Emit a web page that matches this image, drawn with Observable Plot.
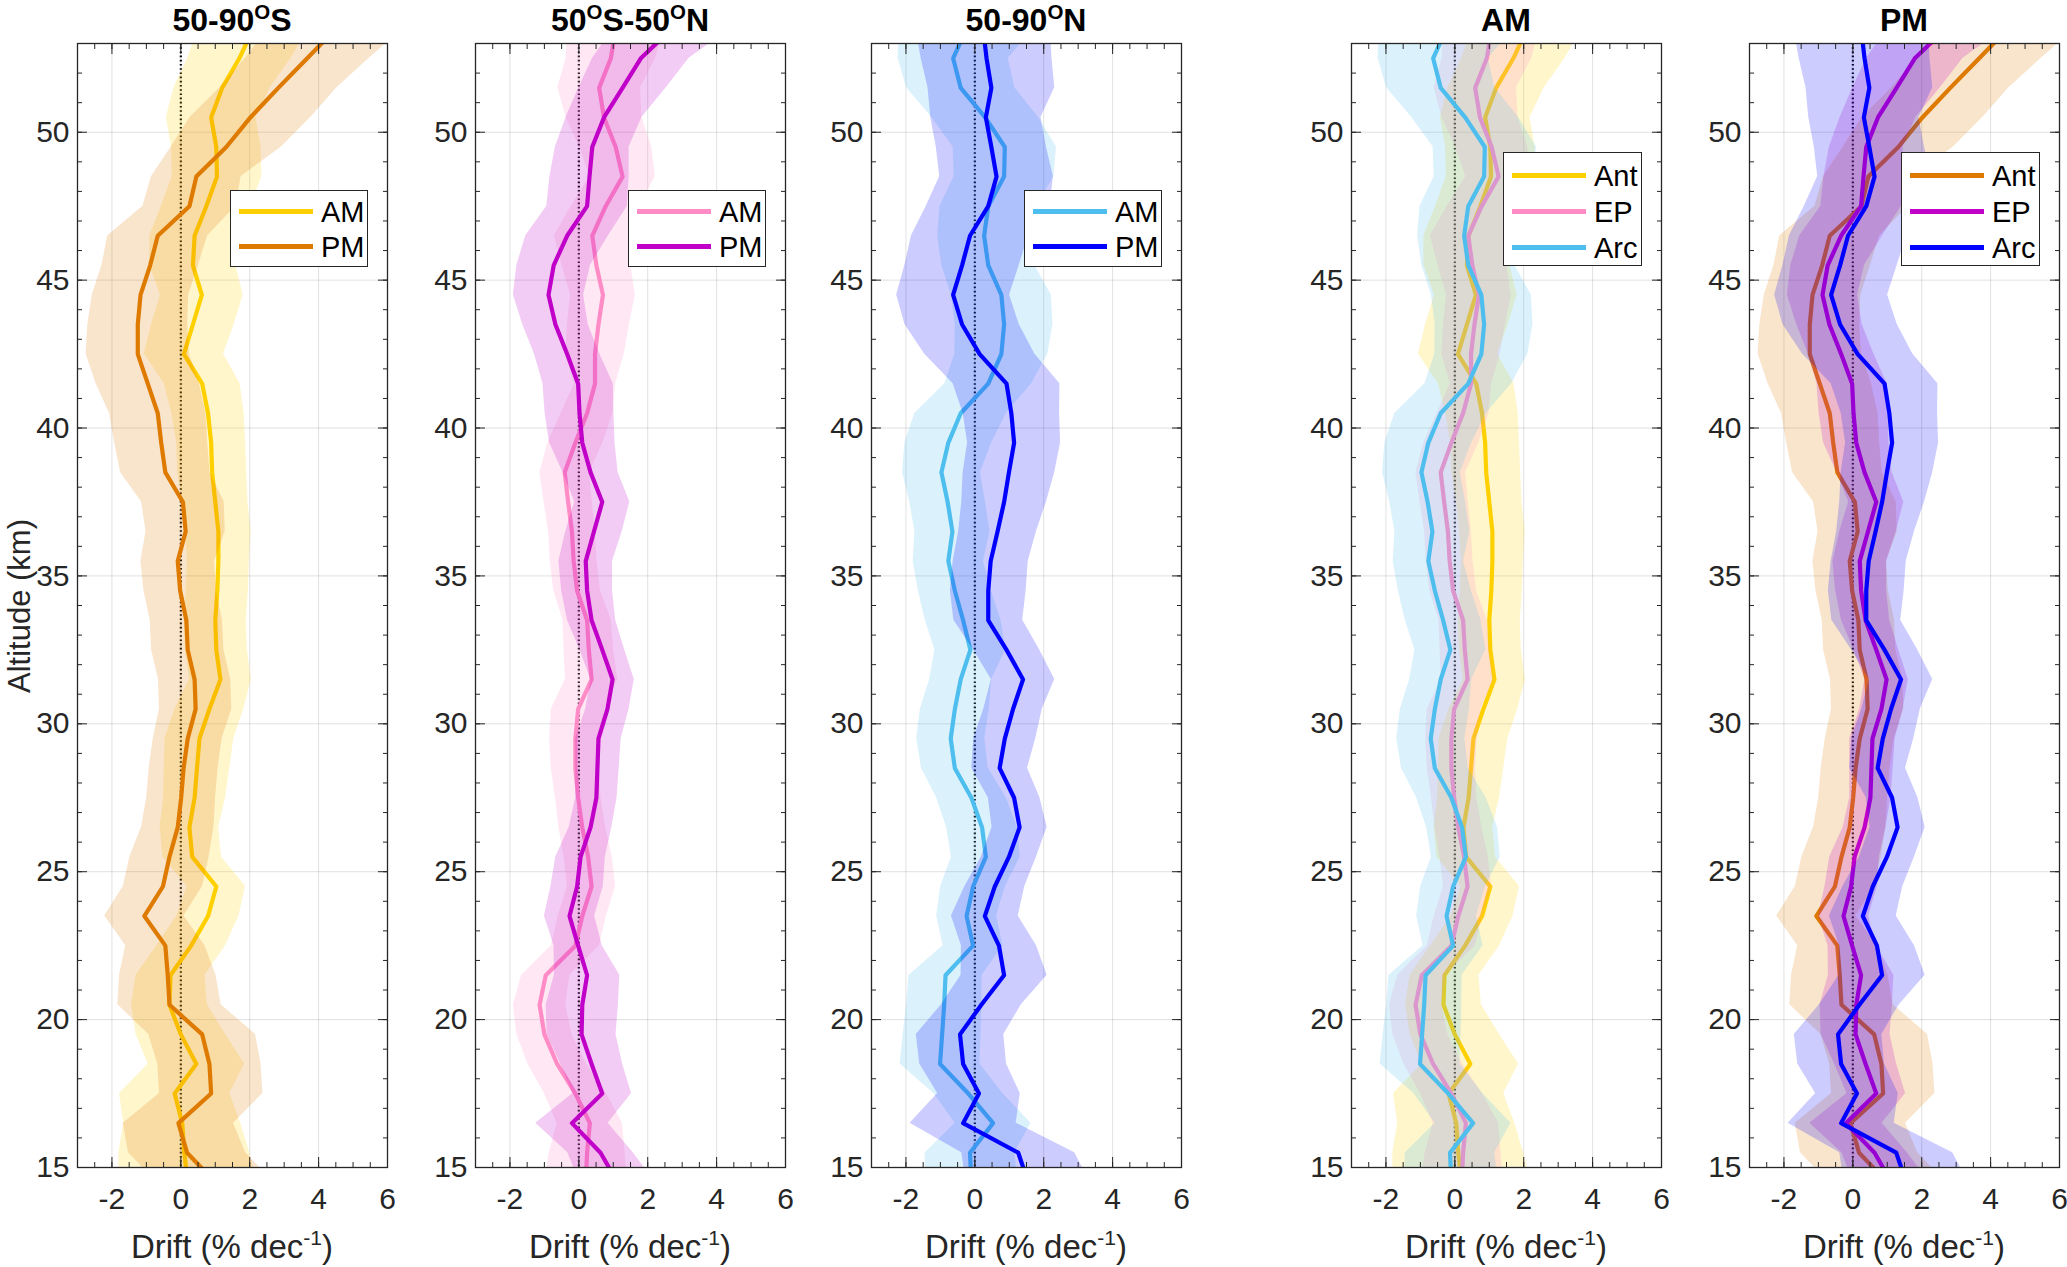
<!DOCTYPE html>
<html>
<head>
<meta charset="utf-8">
<script src="https://cdn.jsdelivr.net/npm/d3@7"></script>
<script src="https://cdn.jsdelivr.net/npm/@observablehq/plot@0.6"></script>
<style>
  body { margin: 0; background: #fff; font-family: "Liberation Sans", Arial, sans-serif; color: #262626; }
  #chart { position: relative; width: 2067px; height: 1267px; overflow: hidden; }
  .panel { position: absolute; }
  .panel svg { max-width: none !important; }
  .title { position: absolute; top: 1px; width: 310px; text-align: center; font-weight: bold; font-size: 32px; line-height: 38px; color: #000; }
  .xlab { position: absolute; top: 1226px; width: 310px; text-align: center; font-size: 33px; line-height: 42px; }
  sup { font-size: 0.64em; line-height: 0; vertical-align: 0.6em; }
  .ylab { position: absolute; left: 20px; top: 606px; font-size: 31px; line-height: 34px; white-space: nowrap; transform: translate(-50%, -50%) rotate(-90deg); }
  .legend { position: absolute; background: #fff; border: 1.3px solid #262626; box-sizing: border-box; }
  .legend .row { position: absolute; left: 0; right: 0; height: 36px; }
  .legend .swatch { position: absolute; left: 8px; top: 15px; width: 74px; height: 5px; }
  .legend .lab { position: absolute; left: 90px; top: 0; font-size: 29px; line-height: 36px; color: #000; }
</style>
</head>
<body>
<div id="chart"></div>
<script>
// altitude levels (km) of the profiles
const altitudes = [14.5, 15.5, 16.5, 17.5, 18.5, 19.5, 20.5, 21.5, 22.5, 23.5,
  24.5, 25.5, 26.5, 27.5, 28.5, 29.5, 30.5, 31.5, 32.5, 33.5,
  34.5, 35.5, 36.5, 37.5, 38.5, 39.5, 40.5, 41.5, 42.5, 43.5,
  44.5, 45.5, 46.5, 47.5, 48.5, 49.5, 50.5, 51.5, 52.5, 53.5];

// drift (% dec-1) and its uncertainty, per region and orbit node
const antAM = [0.2, 0.1, 0.04, -0.18, 0.45, 0.0, -0.33, -0.3, 0.3, 0.79,
  1.03, 0.33, 0.25, 0.4, 0.47, 0.54, 0.83, 1.15, 1.03, 1.0,
  1.06, 1.09, 1.09, 1.0, 0.91, 0.88, 0.79, 0.62, 0.09, 0.35,
  0.61, 0.35, 0.4, 0.74, 1.05, 1.03, 0.88, 1.2, 1.7, 2.1];
const antAMerr = [2.0, 1.9, 1.7, 1.6, 1.4, 1.3, 1.1, 1.0, 1.0, 0.9,
  0.85, 0.85, 0.85, 0.9, 0.95, 1.0, 1.0, 0.9, 0.9, 0.9,
  0.9, 0.9, 0.95, 0.95, 1.0, 1.0, 1.05, 1.1, 1.15, 1.2,
  1.2, 1.25, 1.3, 1.3, 1.3, 1.3, 1.3, 1.4, 1.5, 1.6];
const antPM = [1.0, 0.18, -0.07, 0.88, 0.83, 0.62, -0.33, -0.38, -0.45, -1.06,
  -0.52, -0.33, -0.09, 0.01, 0.08, 0.2, 0.43, 0.4, 0.2, 0.16,
  -0.02, -0.09, 0.14, 0.06, -0.45, -0.57, -0.67, -0.96, -1.25, -1.25,
  -1.17, -0.89, -0.67, 0.25, 0.45, 1.32, 2.02, 2.83, 3.67, 4.5];
const antPMerr = [1.7, 1.7, 1.6, 1.5, 1.5, 1.55, 1.5, 1.4, 1.15, 1.15,
  1.15, 1.15, 1.05, 1.0, 1.0, 1.0, 1.05, 1.05, 1.05, 1.05,
  1.05, 1.07, 1.15, 1.2, 1.3, 1.35, 1.4, 1.5, 1.5, 1.45,
  1.4, 1.4, 1.45, 1.35, 1.3, 1.6, 1.75, 1.7, 1.8, 1.95];
const epAM = [0.2, 0.24, 0.32, -0.1, -0.63, -1.0, -1.14, -0.96, -0.1, 0.1,
  0.37, 0.27, 0.1, -0.02, -0.1, -0.1, -0.02, 0.37, 0.29, 0.24,
  -0.05, -0.15, -0.2, -0.31, -0.41, -0.1, 0.24, 0.47, 0.47, 0.57,
  0.7, 0.51, 0.39, 0.78, 1.27, 1.07, 0.73, 0.59, 0.93, 1.07];
const epAMerr = [1.2, 1.1, 0.95, 0.9, 0.85, 0.8, 0.76, 0.7, 0.7, 0.7,
  0.7, 0.7, 0.68, 0.66, 0.7, 0.75, 0.78, 0.76, 0.72, 0.7,
  0.68, 0.68, 0.68, 0.7, 0.72, 0.8, 0.75, 0.6, 0.85, 0.9,
  0.94, 1.0, 1.1, 1.0, 0.95, 1.05, 1.1, 1.2, 1.3, 1.4];
const epPM = [1.12, 0.63, -0.2, 0.68, 0.37, 0.08, 0.1, 0.24, -0.02, -0.27,
  -0.05, 0.05, 0.34, 0.51, 0.54, 0.57, 0.83, 0.98, 0.68, 0.37,
  0.24, 0.2, 0.44, 0.68, 0.34, 0.1, 0.02, -0.02, -0.34, -0.68,
  -0.88, -0.73, -0.34, 0.24, 0.31, 0.39, 0.73, 1.27, 1.8, 2.7];
const epPMerr = [1.1, 0.95, 1.05, 0.85, 0.9, 1.0, 1.05, 0.95, 0.7, 0.73,
  0.76, 0.72, 0.62, 0.6, 0.63, 0.66, 0.63, 0.63, 0.65, 0.7,
  0.74, 0.78, 0.82, 0.8, 0.8, 0.95, 1.0, 1.02, 0.95, 0.95,
  1.02, 1.07, 1.2, 1.17, 1.15, 1.07, 1.1, 1.27, 1.4, 1.7];
const arcAM = [-0.1, -0.14, 0.53, -0.19, -1.01, -0.95, -0.89, -0.85, -0.05, -0.24,
  -0.05, 0.32, 0.21, -0.1, -0.58, -0.7, -0.58, -0.41, -0.13, -0.34,
  -0.58, -0.77, -0.65, -0.79, -0.97, -0.77, -0.41, 0.39, 0.77, 0.85,
  0.77, 0.39, 0.27, 0.39, 0.85, 0.87, 0.3, -0.41, -0.63, -0.24];
const arcAMerr = [1.35, 1.3, 1.1, 1.0, 1.16, 1.13, 1.09, 1.06, 0.87, 0.87,
  0.94, 1.0, 1.03, 1.01, 0.97, 0.99, 1.0, 0.9, 1.03, 1.1,
  1.06, 1.02, 1.09, 1.1, 1.13, 1.26, 1.33, 1.26, 1.35, 1.42,
  1.45, 1.35, 1.35, 1.4, 1.45, 1.5, 1.55, 1.57, 1.6, 1.95];
const arcPM = [1.55, 1.26, -0.34, 0.12, -0.34, -0.43, 0.19, 0.85, 0.7, 0.29,
  0.58, 0.99, 1.3, 1.14, 0.72, 0.87, 1.11, 1.4, 0.92, 0.39,
  0.39, 0.46, 0.66, 0.85, 0.99, 1.14, 1.06, 0.92, 0.14, -0.37,
  -0.63, -0.37, -0.14, 0.39, 0.63, 0.48, 0.32, 0.48, 0.34, 0.24];
const arcPMerr = [1.8, 1.64, 1.54, 1.2, 1.26, 1.27, 1.16, 1.25, 1.09, 0.97,
  0.87, 0.8, 0.8, 0.75, 0.81, 0.9, 0.85, 0.92, 0.96, 1.0,
  1.1, 1.09, 1.13, 1.23, 1.33, 1.35, 1.4, 1.55, 1.6, 1.66,
  1.64, 1.66, 1.7, 1.8, 1.65, 1.6, 1.6, 1.84, 1.9, 1.95];

const xTicks = [-2, 0, 2, 4, 6];
const xMinor = [-3, -2.5, -2, -1.5, -1, -0.5, 0, 0.5, 1, 1.5, 2, 2.5, 3, 3.5, 4, 4.5, 5, 5.5, 6];
const yTicks = [15, 20, 25, 30, 35, 40, 45, 50];
const yMinor = [15, 16, 17, 18, 19, 20, 21, 22, 23, 24, 25, 26, 27, 28, 29, 30, 31, 32, 33,
  34, 35, 36, 37, 38, 39, 40, 41, 42, 43, 44, 45, 46, 47, 48, 49, 50, 51, 52, 53];

const colors = {
  antAM: "#FFD000", antPM: "#DF7A00",
  epAM: "#FF8CC6", epPM: "#C000C8",
  arcAM: "#4DBEEE", arcPM: "#0000FF"
};

function profile(mean, err) {
  return altitudes.map((a, i) => ({alt: a, drift: mean[i], lo: mean[i] - err[i], hi: mean[i] + err[i]}));
}

const S = {
  antAM: profile(antAM, antAMerr), antPM: profile(antPM, antPMerr),
  epAM: profile(epAM, epAMerr), epPM: profile(epPM, epPMerr),
  arcAM: profile(arcAM, arcAMerr), arcPM: profile(arcPM, arcPMerr)
};

const panels = [
  {left: 77, title: "50-90<sup>O</sup>S", series: [["AM", "antAM"], ["PM", "antPM"]]},
  {left: 475, title: "50<sup>O</sup>S-50<sup>O</sup>N", series: [["AM", "epAM"], ["PM", "epPM"]]},
  {left: 871, title: "50-90<sup>O</sup>N", series: [["AM", "arcAM"], ["PM", "arcPM"]]},
  {left: 1351, title: "AM", series: [["Ant", "antAM"], ["EP", "epAM"], ["Arc", "arcAM"]]},
  {left: 1749, title: "PM", series: [["Ant", "antPM"], ["EP", "epPM"], ["Arc", "arcPM"]]}
];

const ML = 70, MR = 8, MT = 10, MB = 56, PW = 310, PH = 1124, TOP = 43;
const root = d3.select("#chart");
const blank = () => "";

panels.forEach((p, i) => {
  const marks = [
    Plot.gridX(xTicks, {stroke: "#000", strokeOpacity: 0.12}),
    Plot.gridY(yTicks, {stroke: "#000", strokeOpacity: 0.12}),
    Plot.ruleX([0], {stroke: "#000", strokeWidth: 2.2, strokeDasharray: "1.6,2.6"})
  ];
  p.series.forEach(([name, key]) => {
    marks.push(Plot.areaX(S[key], {y: "alt", x1: "lo", x2: "hi", fill: colors[key], fillOpacity: 0.2, clip: true}));
    marks.push(Plot.line(S[key], {x: "drift", y: "alt", stroke: colors[key], strokeWidth: 4.2, clip: true}));
  });
  marks.push(
    Plot.axisY(yTicks, {anchor: "left", tickSize: 10, insetLeft: 10, tickPadding: 8, fontSize: 30, label: null, tickFormat: d => String(d)}),
    Plot.axisY(yMinor, {anchor: "left", tickSize: 5, insetLeft: 5, tickFormat: blank, label: null}),
    Plot.axisY(yTicks, {anchor: "right", tickSize: 10, insetRight: 10, tickFormat: blank, label: null}),
    Plot.axisY(yMinor, {anchor: "right", tickSize: 5, insetRight: 5, tickFormat: blank, label: null}),
    Plot.axisX(xTicks, {anchor: "bottom", tickSize: 10, insetBottom: 10, tickPadding: 20, fontSize: 30, label: null, tickFormat: d => String(d)}),
    Plot.axisX(xMinor, {anchor: "bottom", tickSize: 5, insetBottom: 5, tickFormat: blank, label: null}),
    Plot.axisX(xTicks, {anchor: "top", tickSize: 10, insetTop: 10, tickFormat: blank, label: null}),
    Plot.axisX(xMinor, {anchor: "top", tickSize: 5, insetTop: 5, tickFormat: blank, label: null}),
    Plot.frame({stroke: "#262626", strokeWidth: 1.3})
  );

  const W = ML + PW + MR;
  const chart = Plot.plot({
    width: W,
    height: MT + PH + MB,
    marginLeft: ML, marginRight: MR, marginTop: MT, marginBottom: MB,
    style: {background: "transparent", fontFamily: "Liberation Sans, Arial, sans-serif", fontSize: "30px", color: "#262626"},
    x: {domain: [-3, 6]},
    y: {domain: [15, 53]},
    marks
  });

  root.append("div").attr("class", "panel")
    .style("left", (p.left - ML) + "px").style("top", (TOP - MT) + "px")
    .style("width", W + "px")
    .append(() => chart);

  root.append("div").attr("class", "title").style("left", p.left + "px").html(p.title);
  root.append("div").attr("class", "xlab").style("left", p.left + "px").html("Drift (% dec<sup>-1</sup>)");

  // legend box
  const three = p.series.length === 3;
  const leg = root.append("div").attr("class", "legend")
    .style("left", (p.left + (three ? 152 : 153)) + "px")
    .style("top", (three ? 152 : 190) + "px")
    .style("width", (three ? 139 : 138) + "px")
    .style("height", (three ? 114 : 77) + "px");
  p.series.forEach(([name, key], j) => {
    const cy = three ? 23 + j * 36 : 21 + j * 35;
    const row = leg.append("div").attr("class", "row").style("top", (cy - 18) + "px");
    row.append("span").attr("class", "swatch").style("background", colors[key]);
    row.append("span").attr("class", "lab").text(name);
  });
});

root.append("div").attr("class", "ylab").text("Altitude (km)");
</script>
</body>
</html>
